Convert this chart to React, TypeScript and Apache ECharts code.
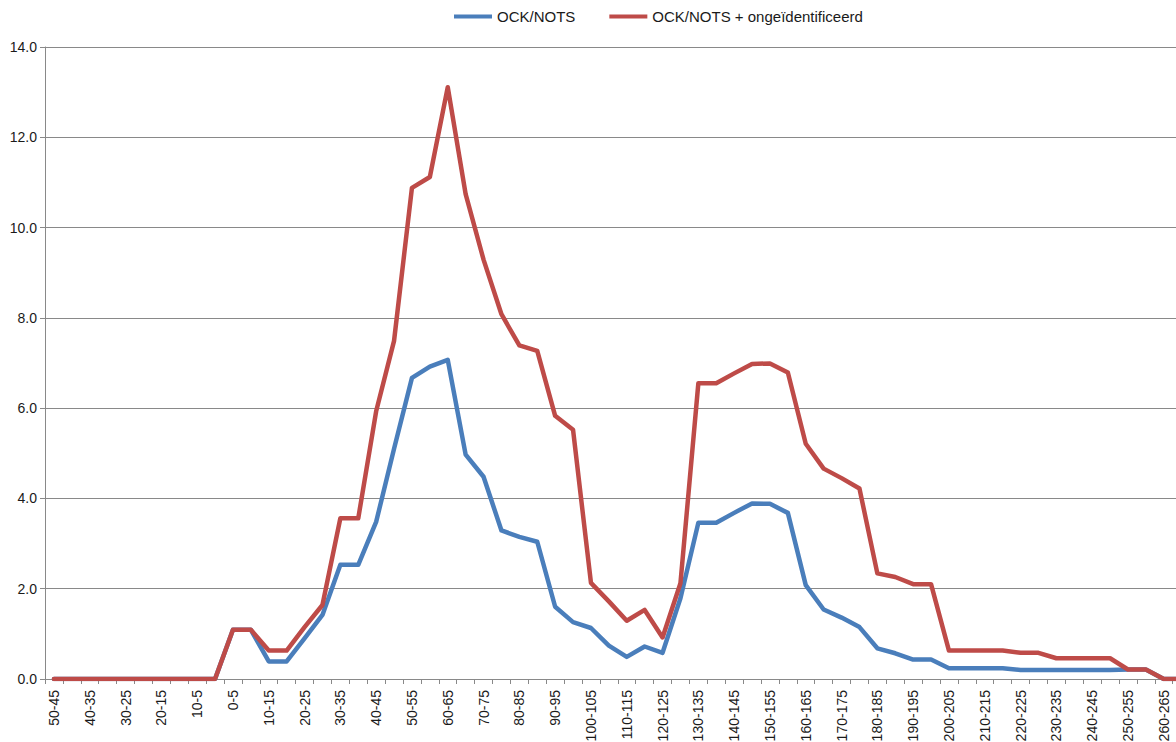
import React, { useEffect, useRef } from "react";
import * as echarts from "echarts";

const categories: string[] = [
  "50-45", "45-40", "40-35", "35-30", "30-25", "25-20", "20-15", "15-10", "10-5", "5-0",
  "0-5", "5-10", "10-15", "15-20", "20-25", "25-30", "30-35", "35-40", "40-45", "45-50",
  "50-55", "55-60", "60-65", "65-70", "70-75", "75-80", "80-85", "85-90", "90-95", "95-100",
  "100-105", "105-110", "110-115", "115-120", "120-125", "125-130", "130-135", "135-140", "140-145", "145-150",
  "150-155", "155-160", "160-165", "165-170", "170-175", "175-180", "180-185", "185-190", "190-195", "195-200",
  "200-205", "205-210", "210-215", "215-220", "220-225", "225-230", "230-235", "235-240", "240-245", "245-250",
  "250-255", "255-260", "260-265", "265-270",
];

const ockNots: number[] = [
  0, 0, 0, 0, 0, 0, 0, 0, 0, 0,
  1.09, 1.09, 0.39, 0.39, 0.9, 1.42, 2.53, 2.53, 3.48, 5.1,
  6.67, 6.92, 7.07, 4.97, 4.48, 3.29, 3.15, 3.04, 1.6, 1.26,
  1.13, 0.74, 0.49, 0.72, 0.58, 1.79, 3.46, 3.46, 3.68, 3.89,
  3.88, 3.68, 2.08, 1.54, 1.36, 1.15, 0.68, 0.57, 0.43, 0.43,
  0.24, 0.24, 0.24, 0.24, 0.2, 0.2, 0.2, 0.2, 0.2, 0.2,
  0.21, 0.21, 0, 0,
];

const ockNotsPlus: number[] = [
  0, 0, 0, 0, 0, 0, 0, 0, 0, 0,
  1.09, 1.09, 0.63, 0.63, 1.15, 1.64, 3.56, 3.56, 5.93, 7.49,
  10.88, 11.12, 13.11, 10.74, 9.29, 8.08, 7.39, 7.27, 5.83, 5.52,
  2.13, 1.72, 1.29, 1.53, 0.92, 2.12, 6.55, 6.55, 6.77, 6.98,
  6.99, 6.79, 5.21, 4.66, 4.45, 4.22, 2.34, 2.26, 2.1, 2.1,
  0.63, 0.63, 0.63, 0.63, 0.58, 0.58, 0.46, 0.46, 0.46, 0.46,
  0.21, 0.21, 0, 0,
];

const seriesNames: string[] = ["OCK/NOTS", "OCK/NOTS + ongeïdentificeerd"];
const seriesColors: string[] = ["#4A7EBB", "#BE4B48"];

const FONT = "'Liberation Sans', Arial, sans-serif";
const TEXT = "#1a1a1a";
const GRID = "#898989";

export default function App() {
  const ref = useRef<HTMLDivElement>(null);

  useEffect(() => {
    if (!ref.current) return;
    const chart = echarts.init(ref.current, undefined, { renderer: "svg" });
    const band = 17.9;
    chart.setOption({
      animation: false,
      backgroundColor: "#ffffff",
      textStyle: { fontFamily: FONT },
      legend: {
        left: 454,
        top: 9,
        padding: 0,
        icon: "rect",
        itemWidth: 38,
        itemHeight: 4,
        itemGap: 34,
        textStyle: { fontSize: 15, color: TEXT, fontFamily: FONT },
        data: seriesNames,
      },
      grid: {
        left: 45,
        top: 47,
        width: band * categories.length,
        height: 632,
        containLabel: false,
      },
      xAxis: {
        type: "category",
        data: categories,
        boundaryGap: true,
        axisLine: { show: true, lineStyle: { color: GRID, width: 1 } },
        axisTick: { show: true, interval: 0, length: 5, lineStyle: { color: GRID } },
        axisLabel: {
          interval: 1,
          rotate: 90,
          fontSize: 14,
          color: TEXT,
          fontFamily: FONT,
          margin: 11,
        },
        splitLine: { show: false },
      },
      yAxis: {
        type: "value",
        min: 0,
        max: 14,
        interval: 2,
        axisLine: { show: true, lineStyle: { color: GRID, width: 1 } },
        axisTick: { show: true, length: 5, lineStyle: { color: GRID } },
        axisLabel: {
          fontSize: 14,
          color: TEXT,
          fontFamily: FONT,
          margin: 8,
          formatter: (v: number) => v.toFixed(1),
        },
        splitLine: { show: true, lineStyle: { color: GRID, width: 1 } },
      },
      series: [
        {
          name: seriesNames[0],
          type: "line",
          data: ockNots,
          showSymbol: false,
          symbol: "none",
          color: seriesColors[0],
          lineStyle: { width: 4.5, color: seriesColors[0], join: "round", cap: "round" },
        },
        {
          name: seriesNames[1],
          type: "line",
          data: ockNotsPlus,
          showSymbol: false,
          symbol: "none",
          color: seriesColors[1],
          lineStyle: { width: 4.5, color: seriesColors[1], join: "round", cap: "round" },
        },
      ],
    });
    return () => chart.dispose();
  }, []);

  return (
    <div
      style={{
        position: "fixed",
        left: 0,
        top: 0,
        width: 1176,
        height: 742,
        overflow: "hidden",
        background: "#ffffff",
      }}
    >
      <div ref={ref} style={{ width: 1220, height: 780 }} />
    </div>
  );
}
